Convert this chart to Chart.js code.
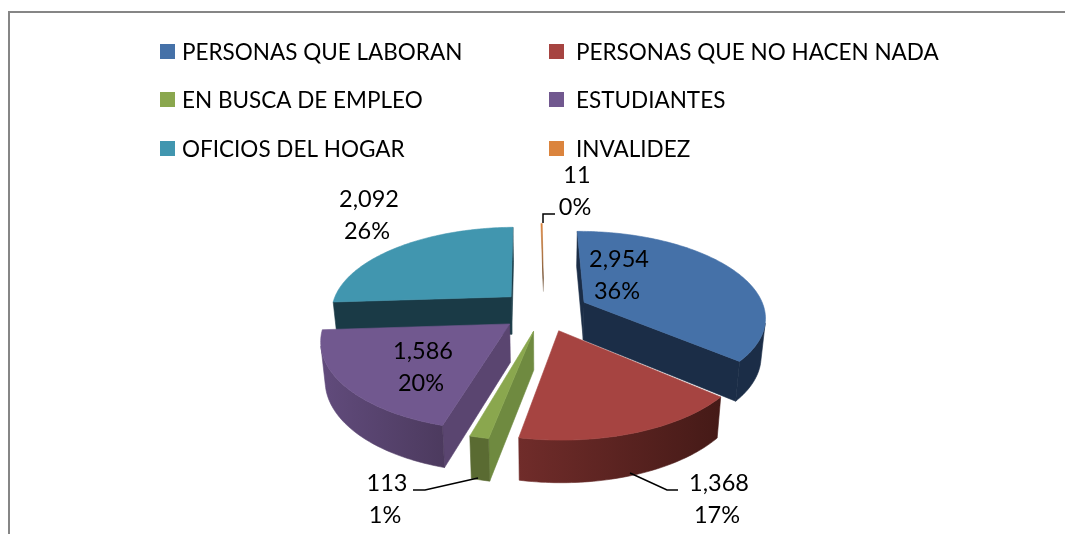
<!DOCTYPE html>
<html>
<head>
<meta charset="utf-8">
<title>Pie</title>
<script src="https://cdn.jsdelivr.net/npm/chart.js@4"></script>
<style>
    html, body { margin: 0; padding: 0; background: #fff; }
    #wrap { position: relative; width: 1065px; height: 534px; overflow: hidden; }
    #frame { position: absolute; left: 8px; top: 11px; right: -4px; bottom: -4px; border: 2px solid #868686; }
    canvas { position: absolute; left: 0; top: 0; }
</style>
</head>
<body>
<div id="wrap">
    <div id="frame"></div>
    <canvas id="pieChart" width="1065" height="534"></canvas>
</div>
<script>
// Data
const categories = ['PERSONAS QUE LABORAN', 'PERSONAS QUE NO HACEN NADA', 'EN BUSCA DE EMPLEO', 'ESTUDIANTES', 'OFICIOS DEL HOGAR', 'INVALIDEZ'];
const values = [2954, 1368, 113, 1586, 2092, 11];

// Slice colours: top face, cut faces, outer wall (left to right)
const topColors = ['#4571a8', '#a64441', '#8aa74e', '#71588f', '#4196af', '#db843d'];
const faceColors = ['#1b2d47', '#441a17', '#6f8a40', '#5a4570', '#1a3a46', '#5c3411'];
const wallLeft = ['#1b2d47', '#702c2a', '#5a6b32', '#614b7c', '#1a3a46', '#5c3411'];
const wallRight = ['#1b2d47', '#451a17', '#5a6b32', '#4c3a5e', '#1a3a46', '#5c3411'];

// Where the value labels and the legend sit
const labelCenters = [[619, 259], [719, 483], [387, 483], [423, 351], [369, 199], [577, 175]];
const leaderLines = [null, [[630, 473], [667, 490], [678, 490]], [[478, 478], [425, 490], [413, 490]], null, null, [[543, 223], [543, 214], [555, 214]]];
const legendColumns = [160, 549];
const legendTextX = [182, 576];
const legendRows = [44, 92, 141];

const LEGEND_FONT = '22.5px Lato, Carlito, sans-serif';
const LABEL_FONT = '23.5px Lato, Carlito, sans-serif';
const TILT = 0.4685;    // vertical squash of the pie plane
const PERSPECTIVE = 0.16;
const DEPTH = 38;       // height of the walls

// Project a point of the pie plane on the screen, drop = 1 gives the bottom of the wall
function project(arc, u, v, drop) {
    const s = 1 / (1 - PERSPECTIVE * v / arc.outerRadius);
    return {
        x: arc.x + u * s * (1 - 0.02 * drop),
        y: arc.y + v * TILT * s + drop * DEPTH * (0.5 + 0.5 * s)
    };
}

function fillPolygon(ctx, points, color) {
    ctx.beginPath();
    points.forEach((p, i) => i ? ctx.lineTo(p.x, p.y) : ctx.moveTo(p.x, p.y));
    ctx.closePath();
    ctx.fillStyle = color;
    ctx.strokeStyle = color;
    ctx.lineWidth = 0.6;
    ctx.fill();
    ctx.stroke();
}

// Walls are only seen when the quad turns the same way as the screen
function wallVisible(a, b, c, d) {
    const pts = [a, b, c, d];
    let area = 0;
    pts.forEach((p, i) => {
        const q = pts[(i + 1) % 4];
        area += p.x * q.y - q.x * p.y;
    });
    return area < 0;
}

function drawSlice(ctx, arc, index) {
    const sweep = arc.endAngle - arc.startAngle;
    const mid = (arc.startAngle + arc.endAngle) / 2;
    const ox = Math.cos(mid) * arc.options.offset;
    const oy = Math.sin(mid) * arc.options.offset;
    const steps = Math.max(2, Math.ceil(sweep / 0.02));
    const rim = [];
    for (let i = 0; i <= steps; i++) {
        const a = arc.startAngle + sweep * i / steps;
        rim.push([ox + Math.cos(a) * arc.outerRadius, oy + Math.sin(a) * arc.outerRadius]);
    }
    const top = rim.map(p => project(arc, p[0], p[1], 0));
    const bottom = rim.map(p => project(arc, p[0], p[1], 1));
    const apexTop = project(arc, ox, oy, 0);
    const apexBottom = project(arc, ox, oy, 1);

    // The sliver at the back shows no wall, it just fades from orange to dark
    if (sweep <= 0.02) {
        const fade = ctx.createLinearGradient(0, top[0].y, 0, apexTop.y);
        fade.addColorStop(0, arc.options.backgroundColor);
        fade.addColorStop(0.45, '#a8662e');
        fade.addColorStop(0.8, '#5c3411');
        fade.addColorStop(1, '#c8c0b8');
        fillPolygon(ctx, [apexTop].concat(top), fade);
        return;
    }

    // Cut faces
    if (wallVisible(apexTop, top[0], bottom[0], apexBottom)) {
        fillPolygon(ctx, [apexTop, top[0], bottom[0], apexBottom], faceColors[index]);
    }
    if (wallVisible(top[steps], apexTop, apexBottom, bottom[steps])) {
        fillPolygon(ctx, [top[steps], apexTop, apexBottom, bottom[steps]], faceColors[index]);
    }

    // Outer wall with a soft shade across it, one polygon for the visible run
    const seen = [];
    for (let i = 0; i < steps; i++) {
        if (wallVisible(top[i], top[i + 1], bottom[i + 1], bottom[i])) seen.push(i);
    }
    if (seen.length) {
        const first = seen[0];
        const last = seen[seen.length - 1] + 1;
        const outline = top.slice(first, last + 1).concat(bottom.slice(first, last + 1).reverse());
        const xs = outline.map(p => p.x);
        const shade = ctx.createLinearGradient(Math.min(...xs), 0, Math.max(...xs), 0);
        shade.addColorStop(0, wallLeft[index]);
        shade.addColorStop(1, wallRight[index]);
        fillPolygon(ctx, outline, shade);
    }

    // Top face
    fillPolygon(ctx, [apexTop].concat(top), arc.options.backgroundColor);
}

const pie3dPlugin = {
    id: 'pie3d',
    // Replace the flat arcs by the tilted ones, back slices first
    beforeDatasetsDraw(chart) {
        const ctx = chart.ctx;
        const arcs = chart.getDatasetMeta(0).data;
        const order = arcs.map((arc, i) => i).sort((a, b) => {
            const midA = (arcs[a].startAngle + arcs[a].endAngle) / 2;
            const midB = (arcs[b].startAngle + arcs[b].endAngle) / 2;
            return Math.sin(midA) - Math.sin(midB);
        });
        order.forEach(i => drawSlice(ctx, arcs[i], i));
        return false;
    },
    afterDraw(chart) {
        const ctx = chart.ctx;
        const total = values.reduce((a, b) => a + b, 0);
        ctx.save();
        ctx.fillStyle = '#000';
        ctx.textBaseline = 'middle';

        // Legend, two columns
        ctx.font = LEGEND_FONT;
        ctx.textAlign = 'left';
        categories.forEach((name, i) => {
            const x = legendColumns[i % 2];
            const y = legendRows[Math.floor(i / 2)];
            ctx.fillStyle = topColors[i];
            ctx.fillRect(x, y, 15, 15);
            ctx.fillStyle = '#000';
            ctx.fillText(name, legendTextX[i % 2], y + 9);
        });

        // Leader lines
        ctx.strokeStyle = '#000';
        ctx.lineWidth = 1.5;
        leaderLines.forEach(line => {
            if (!line) return;
            ctx.beginPath();
            line.forEach((p, i) => i ? ctx.lineTo(p[0], p[1]) : ctx.moveTo(p[0], p[1]));
            ctx.stroke();
        });

        // Value and percentage labels
        ctx.font = LABEL_FONT;
        ctx.textAlign = 'center';
        values.forEach((value, i) => {
            const [x, y] = labelCenters[i];
            ctx.fillText(value.toLocaleString('en-US'), x, y);
            ctx.fillText(Math.round(value / total * 100) + '%', x - 2, y + 32);
        });
        ctx.restore();
    }
};

new Chart(document.getElementById('pieChart'), {
    type: 'pie',
    data: {
        labels: categories,
        datasets: [{
            data: values,
            backgroundColor: topColors,
            borderWidth: 0,
            offset: [45, 43, 43, 43, 46, 43]
        }]
    },
    options: {
        responsive: false,
        animation: false,
        radius: 181,
        rotation: -0.5,
        layout: { padding: { left: 23, top: 133, bottom: 45 } },
        plugins: {
            legend: { display: false },
            tooltip: { enabled: false }
        }
    },
    plugins: [pie3dPlugin]
});
</script>
</body>
</html>
